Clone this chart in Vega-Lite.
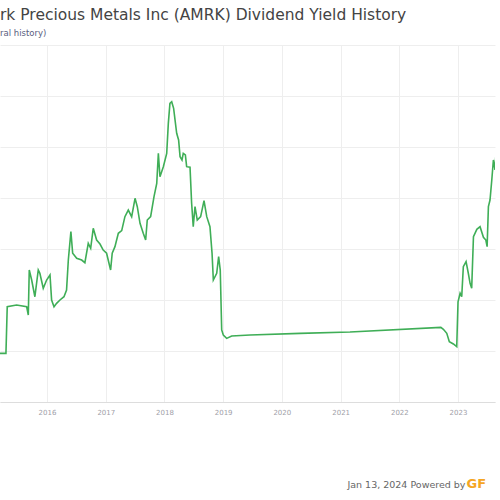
{
  "$schema": "https://vega.github.io/schema/vega-lite/v6.json",
  "autosize": {"type": "none"},
  "width": 495,
  "height": 357,
  "padding": {"left": 0, "top": 45, "right": 5, "bottom": 98},
  "background": "white",
  "title": {
    "text": "rk Precious Metals Inc (AMRK) Dividend Yield History",
    "subtitle": "ral history)",
    "anchor": "start",
    "font": "DejaVu Sans",
    "fontSize": 15.5,
    "fontWeight": "normal",
    "color": "#444444",
    "subtitleFont": "DejaVu Sans",
    "subtitleFontSize": 8.5,
    "subtitleColor": "#5a6080",
    "subtitlePadding": 5,
    "offset": 8
  },
  "data": {
    "values": [
      {"date": "2015-03-15", "yield": 0.477},
      {"date": "2015-04-21", "yield": 0.477},
      {"date": "2015-04-29", "yield": 0.934},
      {"date": "2015-06-26", "yield": 0.951},
      {"date": "2015-08-28", "yield": 0.934},
      {"date": "2015-09-07", "yield": 0.853},
      {"date": "2015-09-13", "yield": 1.294},
      {"date": "2015-09-28", "yield": 1.196},
      {"date": "2015-10-18", "yield": 1.032},
      {"date": "2015-11-08", "yield": 1.294},
      {"date": "2015-11-18", "yield": 1.262},
      {"date": "2015-12-09", "yield": 1.115},
      {"date": "2015-12-30", "yield": 1.196},
      {"date": "2016-01-20", "yield": 1.245},
      {"date": "2016-01-30", "yield": 1.0},
      {"date": "2016-02-14", "yield": 0.934},
      {"date": "2016-03-01", "yield": 0.967},
      {"date": "2016-03-22", "yield": 1.0},
      {"date": "2016-04-16", "yield": 1.032},
      {"date": "2016-05-02", "yield": 1.098},
      {"date": "2016-05-13", "yield": 1.392},
      {"date": "2016-05-29", "yield": 1.67},
      {"date": "2016-06-09", "yield": 1.458},
      {"date": "2016-07-04", "yield": 1.409},
      {"date": "2016-08-04", "yield": 1.392},
      {"date": "2016-08-24", "yield": 1.366},
      {"date": "2016-09-14", "yield": 1.556},
      {"date": "2016-09-29", "yield": 1.507},
      {"date": "2016-10-15", "yield": 1.703},
      {"date": "2016-11-05", "yield": 1.588},
      {"date": "2016-11-26", "yield": 1.549},
      {"date": "2016-12-16", "yield": 1.49},
      {"date": "2017-01-06", "yield": 1.458},
      {"date": "2017-01-31", "yield": 1.294},
      {"date": "2017-02-10", "yield": 1.458},
      {"date": "2017-02-27", "yield": 1.523},
      {"date": "2017-03-20", "yield": 1.654},
      {"date": "2017-04-10", "yield": 1.68},
      {"date": "2017-04-30", "yield": 1.817},
      {"date": "2017-05-21", "yield": 1.882},
      {"date": "2017-06-11", "yield": 1.817},
      {"date": "2017-07-02", "yield": 1.997},
      {"date": "2017-07-16", "yield": 1.915},
      {"date": "2017-08-02", "yield": 1.752},
      {"date": "2017-08-22", "yield": 1.654},
      {"date": "2017-09-06", "yield": 1.588},
      {"date": "2017-09-16", "yield": 1.784},
      {"date": "2017-10-07", "yield": 1.817},
      {"date": "2017-10-28", "yield": 2.013},
      {"date": "2017-11-14", "yield": 2.144},
      {"date": "2017-11-24", "yield": 2.438},
      {"date": "2017-12-04", "yield": 2.209},
      {"date": "2017-12-25", "yield": 2.307},
      {"date": "2018-01-15", "yield": 2.438},
      {"date": "2018-01-25", "yield": 2.732},
      {"date": "2018-02-04", "yield": 2.928},
      {"date": "2018-02-15", "yield": 2.944},
      {"date": "2018-02-27", "yield": 2.879},
      {"date": "2018-03-18", "yield": 2.634},
      {"date": "2018-03-30", "yield": 2.569},
      {"date": "2018-04-08", "yield": 2.405},
      {"date": "2018-04-20", "yield": 2.373},
      {"date": "2018-04-28", "yield": 2.438},
      {"date": "2018-05-11", "yield": 2.422},
      {"date": "2018-05-19", "yield": 2.307},
      {"date": "2018-06-09", "yield": 2.301},
      {"date": "2018-06-19", "yield": 1.948},
      {"date": "2018-06-29", "yield": 1.719},
      {"date": "2018-07-10", "yield": 1.915},
      {"date": "2018-07-24", "yield": 1.784},
      {"date": "2018-08-14", "yield": 1.817},
      {"date": "2018-09-04", "yield": 1.974},
      {"date": "2018-09-21", "yield": 1.817},
      {"date": "2018-10-11", "yield": 1.719},
      {"date": "2018-10-24", "yield": 1.458},
      {"date": "2018-11-01", "yield": 1.196},
      {"date": "2018-11-22", "yield": 1.262},
      {"date": "2018-12-04", "yield": 1.425},
      {"date": "2018-12-14", "yield": 1.294},
      {"date": "2018-12-23", "yield": 0.706},
      {"date": "2019-01-02", "yield": 0.657},
      {"date": "2019-01-23", "yield": 0.624},
      {"date": "2019-02-23", "yield": 0.647},
      {"date": "2019-06-17", "yield": 0.657},
      {"date": "2020-04-23", "yield": 0.673},
      {"date": "2021-02-28", "yield": 0.686},
      {"date": "2022-09-16", "yield": 0.732},
      {"date": "2022-10-02", "yield": 0.713},
      {"date": "2022-10-23", "yield": 0.673},
      {"date": "2022-11-08", "yield": 0.591},
      {"date": "2022-12-03", "yield": 0.569},
      {"date": "2022-12-24", "yield": 0.542},
      {"date": "2023-01-01", "yield": 0.983},
      {"date": "2023-01-14", "yield": 1.066},
      {"date": "2023-01-24", "yield": 1.032},
      {"date": "2023-02-03", "yield": 1.327},
      {"date": "2023-02-20", "yield": 1.376},
      {"date": "2023-03-06", "yield": 1.262},
      {"date": "2023-03-17", "yield": 1.163},
      {"date": "2023-03-27", "yield": 1.115},
      {"date": "2023-04-07", "yield": 1.621},
      {"date": "2023-04-28", "yield": 1.693},
      {"date": "2023-05-18", "yield": 1.719},
      {"date": "2023-06-08", "yield": 1.615},
      {"date": "2023-06-23", "yield": 1.588},
      {"date": "2023-07-01", "yield": 1.523},
      {"date": "2023-07-09", "yield": 1.915},
      {"date": "2023-07-19", "yield": 1.98},
      {"date": "2023-07-30", "yield": 2.176},
      {"date": "2023-08-09", "yield": 2.373},
      {"date": "2023-08-19", "yield": 2.275},
      {"date": "2023-08-30", "yield": 2.569}
    ]
  },
  "mark": {"type": "line", "color": "#3fae57", "strokeWidth": 1.6, "clip": true, "interpolate": "linear"},
  "encoding": {
    "x": {
      "field": "date",
      "type": "temporal",
      "scale": {"domain": ["2015-03-15", "2023-08-19"]},
      "axis": {
        "format": "%Y",
        "tickCount": {"interval": "year", "step": 1},
        "grid": true,
        "gridColor": "#eeeeee",
        "gridWidth": 1,
        "domain": true,
        "domainColor": "#dddddd",
        "ticks": false,
        "labelFont": "DejaVu Sans",
        "labelFontSize": 7,
        "labelColor": "#a0a0a8",
        "labelPadding": 6,
        "title": "Jan 13, 2024   Powered by",
        "titleFont": "DejaVu Sans",
        "titleFontSize": 9.5,
        "titleFontWeight": "normal",
        "titleColor": "#666666",
        "titleAlign": "right",
        "titleBaseline": "middle",
        "titleX": 465,
        "titleY": 82
      }
    },
    "y": {
      "field": "yield",
      "type": "quantitative",
      "scale": {"domain": [0, 3.5], "nice": false, "zero": true},
      "axis": {
        "orient": "right",
        "values": [0, 0.5, 1, 1.5, 2, 2.5, 3, 3.5],
        "grid": true,
        "gridColor": "#eeeeee",
        "domain": false,
        "ticks": false,
        "labels": false,
        "title": "GF",
        "titleAngle": 0,
        "titleFont": "DejaVu Sans",
        "titleFontSize": 13,
        "titleFontWeight": "bold",
        "titleColor": "#f5a623",
        "titleAlign": "left",
        "titleBaseline": "middle",
        "titleX": -29,
        "titleY": 438
      }
    }
  },
  "config": {"view": {"stroke": null}}
}
